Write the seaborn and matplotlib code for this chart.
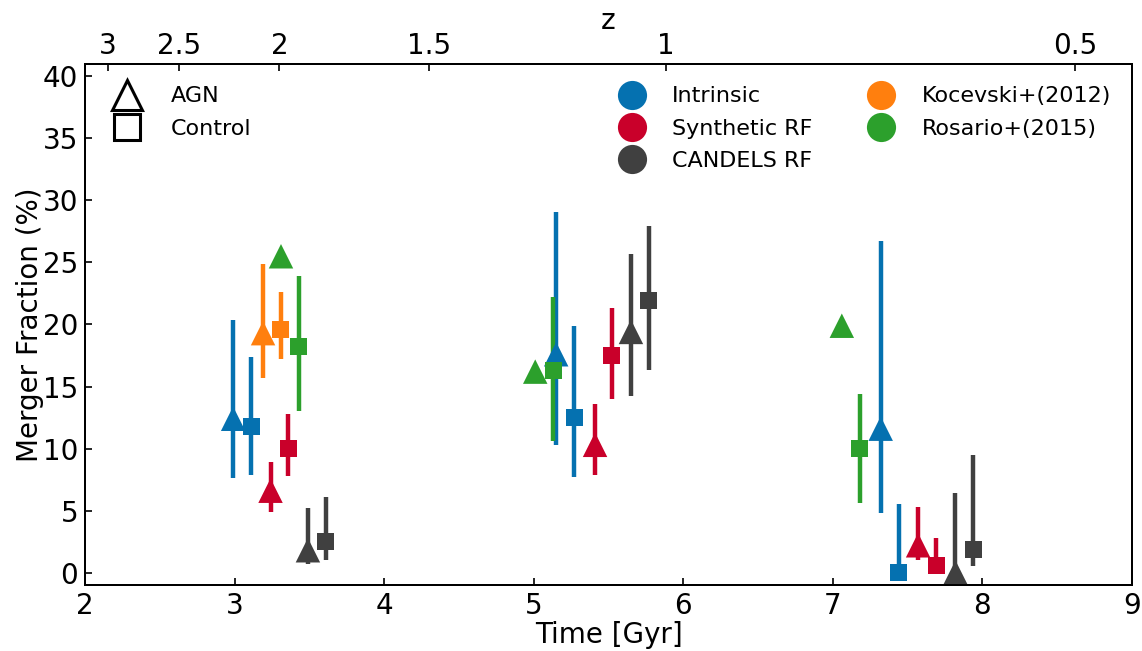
import numpy as np
import pandas as pd
import matplotlib
matplotlib.use("Agg")
import matplotlib.pyplot as plt
from matplotlib.lines import Line2D
import seaborn as sns

# ---------------- data ----------------
series_names = ["Intrinsic", "Synthetic RF", "CANDELS RF", "Kocevski+(2012)", "Rosario+(2015)"]
series_colors = ["#0571B0", "#C9002A", "#404040", "#FF7F0E", "#2CA02C"]

# Intrinsic
intr_agn_t = [2.99, 5.15, 7.32]
intr_agn_f = [12.4, 17.6, 11.6]
intr_agn_lo = [7.6, 10.3, 4.8]
intr_agn_hi = [20.4, 29.1, 26.7]
intr_ctl_t = [3.11, 5.27, 7.44]
intr_ctl_f = [11.8, 12.5, 0.0]
intr_ctl_lo = [7.9, 7.7, 0.0]
intr_ctl_hi = [17.4, 19.9, 5.5]

# Synthetic RF
syn_agn_t = [3.24, 5.41, 7.57]
syn_agn_f = [6.6, 10.3, 2.2]
syn_agn_lo = [4.9, 7.9, 1.05]
syn_agn_hi = [8.9, 13.6, 5.3]
syn_ctl_t = [3.36, 5.52, 7.69]
syn_ctl_f = [10.0, 17.5, 0.55]
syn_ctl_lo = [7.8, 14.0, 0.0]
syn_ctl_hi = [12.8, 21.3, 2.75]

# CANDELS RF
cand_agn_t = [3.49, 5.65, 7.82]
cand_agn_f = [1.8, 19.4, 0.0]
cand_agn_lo = [0.7, 14.2, 0.0]
cand_agn_hi = [5.2, 25.7, 6.4]
cand_ctl_t = [3.61, 5.77, 7.94]
cand_ctl_f = [2.5, 21.9, 1.9]
cand_ctl_lo = [1.05, 16.3, 0.5]
cand_ctl_hi = [6.1, 27.9, 9.45]

# Kocevski+(2012)
koc_agn_t = [3.19]
koc_agn_f = [19.3]
koc_agn_lo = [15.7]
koc_agn_hi = [24.9]
koc_ctl_t = [3.31]
koc_ctl_f = [19.6]
koc_ctl_lo = [17.2]
koc_ctl_hi = [22.6]

# Rosario+(2015)  (AGN points have no error bars)
ros_agn_t = [3.31, 5.01, 7.06]
ros_agn_f = [25.5, 16.2, 19.9]
ros_agn_lo = [np.nan, np.nan, np.nan]
ros_agn_hi = [np.nan, np.nan, np.nan]
ros_ctl_t = [3.43, 5.13, 7.18]
ros_ctl_f = [18.2, 16.3, 10.0]
ros_ctl_lo = [13.0, 10.6, 5.6]
ros_ctl_hi = [23.9, 22.2, 14.4]

# top axis: redshift ticks and the cosmic time (Gyr) at which they sit
z_tick_labels = ["3", "2.5", "2", "1.5", "1", "0.5"]
z_tick_ages = [2.15, 2.63, 3.30, 4.30, 5.885, 8.62]

x_ticks = [2, 3, 4, 5, 6, 7, 8, 9]
y_ticks = [0, 5, 10, 15, 20, 25, 30, 35, 40]

# ---------------- tidy table ----------------
groups = [
    ("Intrinsic", "AGN", intr_agn_t, intr_agn_f, intr_agn_lo, intr_agn_hi),
    ("Intrinsic", "Control", intr_ctl_t, intr_ctl_f, intr_ctl_lo, intr_ctl_hi),
    ("Synthetic RF", "AGN", syn_agn_t, syn_agn_f, syn_agn_lo, syn_agn_hi),
    ("Synthetic RF", "Control", syn_ctl_t, syn_ctl_f, syn_ctl_lo, syn_ctl_hi),
    ("CANDELS RF", "AGN", cand_agn_t, cand_agn_f, cand_agn_lo, cand_agn_hi),
    ("CANDELS RF", "Control", cand_ctl_t, cand_ctl_f, cand_ctl_lo, cand_ctl_hi),
    ("Kocevski+(2012)", "AGN", koc_agn_t, koc_agn_f, koc_agn_lo, koc_agn_hi),
    ("Kocevski+(2012)", "Control", koc_ctl_t, koc_ctl_f, koc_ctl_lo, koc_ctl_hi),
    ("Rosario+(2015)", "AGN", ros_agn_t, ros_agn_f, ros_agn_lo, ros_agn_hi),
    ("Rosario+(2015)", "Control", ros_ctl_t, ros_ctl_f, ros_ctl_lo, ros_ctl_hi),
]
rows = []
for s, kind, t, f, lo, hi in groups:
    for a, b, c, d in zip(t, f, lo, hi):
        rows.append(dict(series=s, kind=kind, time=a, frac=b, lo=c, hi=d))
df = pd.DataFrame(rows)
palette = dict(zip(series_names, series_colors))

# ---------------- style ----------------
sns.set_theme(style="ticks")
plt.rcParams["font.family"] = ["DejaVu Sans"]
plt.rcParams.update({
    "xtick.direction": "in", "ytick.direction": "in",
    "axes.linewidth": 1.4, "xtick.major.width": 1.2, "ytick.major.width": 1.2,
    "xtick.major.size": 5, "ytick.major.size": 5,
    "xtick.labelsize": 20, "ytick.labelsize": 20, "axes.labelsize": 20,
    "axes.edgecolor": "black", "xtick.color": "black", "ytick.color": "black",
    "text.color": "black", "axes.labelcolor": "black",
    "xtick.labelcolor": "black", "ytick.labelcolor": "black",
})

fig = plt.figure(figsize=(11.42, 6.51), dpi=100)
ax = fig.add_axes([0.0745, 0.1014, 0.9912 - 0.0745, 0.9017 - 0.1014])

# error bars
for (s, kind), g in df.groupby(["series", "kind"], sort=False):
    m = g["lo"].notna()
    if m.any():
        gg = g[m]
        ax.errorbar(gg["time"], gg["frac"],
                    yerr=[gg["frac"] - gg["lo"], gg["hi"] - gg["frac"]],
                    fmt="none", ecolor=palette[s], elinewidth=3.2, capsize=0, zorder=2)

# markers
for kind, marker, size in [("AGN", "^", 310), ("Control", "s", 150)]:
    sub = df[df["kind"] == kind]
    sns.scatterplot(data=sub, x="time", y="frac", hue="series", palette=palette,
                    marker=marker, s=size, linewidth=0, legend=False, ax=ax, zorder=3)

ax.set_xlim(2, 9)
ax.set_ylim(-1, 41)
ax.set_xticks(x_ticks)
ax.set_yticks(y_ticks)
ax.set_xlabel("Time [Gyr]", labelpad=1)
ax.set_ylabel("Merger Fraction (%)", labelpad=-1)
ax.tick_params(axis="both", which="both", top=False, right=False, pad=5)
for sp in ax.spines.values():
    sp.set_visible(True)
    sp.set_color("black")

# top redshift axis
ax2 = ax.twiny()
ax2.set_xlim(ax.get_xlim())
ax2.set_xticks(z_tick_ages)
ax2.set_xticklabels(z_tick_labels)
ax2.set_xlabel("z", fontsize=20, labelpad=2)
ax2.tick_params(axis="x", direction="in", length=5, width=1.2, labelsize=20, pad=3)

# legends
shape_handles = [
    Line2D([], [], linestyle="none", marker="^", markersize=21, markerfacecolor="none",
           markeredgecolor="black", markeredgewidth=2.2, label="AGN"),
    Line2D([], [], linestyle="none", marker="s", markersize=19, markerfacecolor="none",
           markeredgecolor="black", markeredgewidth=2.2, label="Control"),
]
leg1 = ax.legend(handles=shape_handles, loc="upper left", bbox_to_anchor=(0.019, 0.957),
                 frameon=False, fontsize=16, borderpad=0, borderaxespad=0,
                 labelspacing=0.55, handletextpad=0.95)
ax.add_artist(leg1)

color_handles = [
    Line2D([], [], linestyle="none", marker="o", markersize=21, markerfacecolor=c,
           markeredgewidth=0, label=n)
    for n, c in zip(series_names, series_colors)
]
ax.legend(handles=color_handles, loc="upper left", bbox_to_anchor=(0.5014, 0.957),
          ncol=2, frameon=False, fontsize=16, borderpad=0, borderaxespad=0,
          labelspacing=0.55, handletextpad=0.8, columnspacing=2.1)

fig.savefig("out.png", dpi=100)
